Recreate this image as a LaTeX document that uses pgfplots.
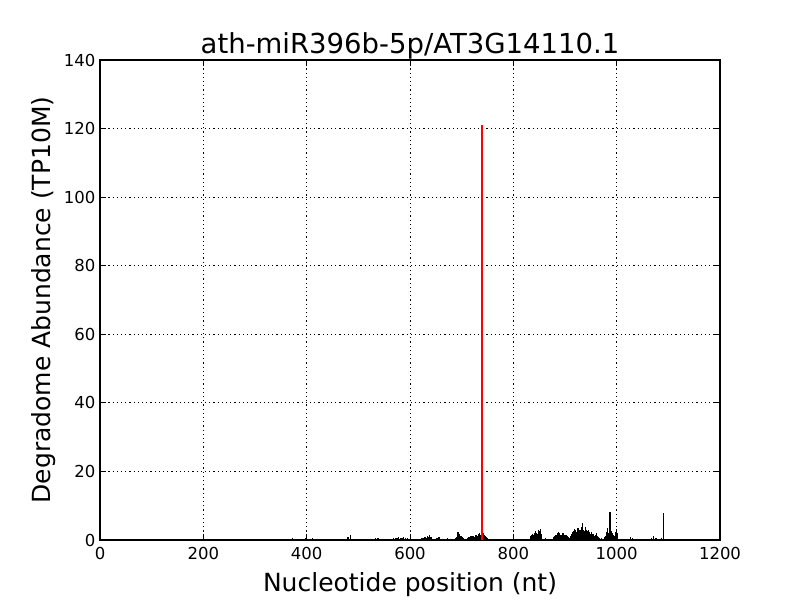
\documentclass[border=0pt]{standalone}
\usepackage{fontspec}
\setmainfont{DejaVu Sans}
\usepackage{pgfplots}
\pgfplotsset{compat=1.18}
\begin{document}
\begin{tikzpicture}[x=1pt,y=1pt]
\path[use as bounding box] (0,0) rectangle (800,600);
\begin{axis}[
  at={(100pt,60pt)}, anchor=south west,
  scale only axis, width=620pt, height=480pt,
  xmin=0, xmax=1200, ymin=0, ymax=140,
  xtick={0,200,...,1200}, ytick={0,20,...,140},
  tick align=inside, tick pos=both,
  major tick length=6pt,
  grid=major,
  major grid style={black, line width=0.9pt, dash pattern=on 1.2pt off 3pt},
  axis line style={black, line width=1.2pt},
  every tick/.style={black, line width=1pt},
  /pgf/number format/assume math mode=true,
  /pgf/number format/1000 sep={},
  tick label style={font=\fontsize{16.5}{19}\selectfont},
  xticklabel style={yshift=-4pt},
  yticklabel style={xshift=-1pt},
  title={ath-miR396b-5p/AT3G14110.1},
  title style={font=\fontsize{27.5}{32}\selectfont, yshift=-9pt},
  xlabel={Nucleotide position (nt)},
  ylabel={Degradome Abundance (TP10M)},
  label style={font=\fontsize{25}{29}\selectfont},
  xlabel style={yshift=-6pt},
  ylabel style={yshift=1pt},
]
\addplot[ycomb, black, line width=1.2pt, no marks] coordinates {
(3,0.1)(12,0.1)(25,0.15)(38,0.3)(45,0.1)(52,0.2)(63,0.1)(75,0.1)(88,0.2)(95,0.3)(100,0.2)(108,0.1)(118,0.2)(128,0.4)(135,0.2)(150,0.1)(160,0.3)(168,0.2)(175,0.1)(182,0.3)(188,0.2)(195,0.1)
(205,0.2)(212,0.3)(222,0.2)(235,0.3)(248,0.1)(255,0.4)(262,0.2)(270,0.3)(280,0.2)(290,0.1)(300,0.2)(312,0.1)(322,0.2)(330,0.3)(340,0.2)(350,0.1)(358,0.2)(365,0.3)(372,0.6)(377,0.4)(383,0.3)(390,0.2)(398,0.6)
(402,0.3)(408,0.2)(412,0.5)(418,0.4)(425,0.2)(435,0.1)(445,0.2)(455,0.2)(465,0.1)(472,0.3)(480,0.8)(485,1.5)(490,0.3)(500,0.2)(508,0.1)(518,0.2)(528,0.4)(533,0.6)(538,0.5)(545,0.3)(552,0.1)(560,0.3)(568,0.5)(573,0.7)(576,0.6)(578,0.9)(581,0.7)(583,0.6)(586,0.7)(588,0.8)(592,0.5)(595,0.6)(598,0.4)(601,1.0)(606,0.3)(612,0.2)(618,0.4)(622,0.5)(625,0.6)(628,0.8)(630,0.9)(632,0.7)(634,1.1)(636,1.0)(638,1.4)(640,1.0)(642,0.8)(647,0.3)(652,0.5)(654,0.6)(656,0.8)(660,0.4)(666,0.3)(672,0.5)(678,0.4)(684,0.3)(688,0.6)(690,1.0)(692,1.8)(693,2.2)(695,1.7)(696,1.6)(698,1.3)(699,1.2)(701,0.8)(703,0.6)(708,0.4)(712,0.7)(714,0.8)(716,1.0)(718,1.1)(720,1.3)(722,1.2)(724,1.0)(726,1.4)(727,1.6)(729,1.5)(731,1.2)(733,1.8)(734,2.0)(736,1.6)(737,1.1)(742,2.0)(744,1.6)(745,1.3)(747,0.8)(749,0.5)(755,0.2)(762,0.1)(770,0.2)(778,0.1)(790,0.2)(800,0.1)(810,0.2)(820,0.1)(828,0.2)
(834,1.2)(836,1.4)(837,1.8)(839,1.6)(840,1.5)(842,2.0)(843,2.5)(845,2.1)(846,1.7)(848,2.4)(849,2.8)(851,2.6)(852,3.2)(854,1.8)(855,1.0)(859,0.4)(863,0.5)(867,0.3)(872,0.4)(877,0.8)(879,1.1)(881,1.5)(883,1.4)(884,1.2)(886,1.9)(887,2.3)(889,2.0)(890,1.8)(892,1.5)(893,1.4)(895,1.7)(896,1.9)(898,1.5)(899,1.2)(901,1.4)(903,1.6)(905,1.2)(906,1.0)(909,0.6)(911,1.2)(913,1.8)(915,2.2)(916,2.6)(918,2.8)(919,3.2)(921,2.8)(922,2.4)(924,3.0)(925,3.5)(927,2.8)(928,2.2)(930,2.6)(931,3.0)(933,3.8)(934,4.9)(936,3.0)(937,2.6)(939,3.2)(940,3.8)(942,3.0)(943,2.5)(945,2.8)(946,3.0)(948,2.2)(949,1.8)(951,2.0)(952,2.4)(954,1.8)(955,1.4)(957,1.3)(958,1.2)(960,1.6)(961,1.9)(963,1.3)(964,1.0)(967,0.6)(971,0.5)(975,0.4)(977,0.8)(979,1.2)(981,2.4)(982,3.6)(984,2.0)(985,1.8)(987,8.2)(988,2.0)(990,2.5)(991,2.0)(993,1.5)(995,1.3)(996,1.2)(998,2.2)(999,3.2)(1001,2.0)(1002,1.6)(1005,0.4)(1010,0.3)(1016,0.2)(1022,0.4)(1026,0.8)(1030,0.5)(1035,0.3)(1040,0.4)(1046,0.3)(1052,0.2)(1058,0.3)(1064,0.4)(1068,0.6)(1072,1.2)(1076,0.5)(1082,0.4)(1086,0.6)(1090,8.0)(1094,0.2)
};
\addplot[ycomb, red, line width=2pt, no marks] coordinates {(739,121)};
\end{axis}
\end{tikzpicture}
\end{document}
